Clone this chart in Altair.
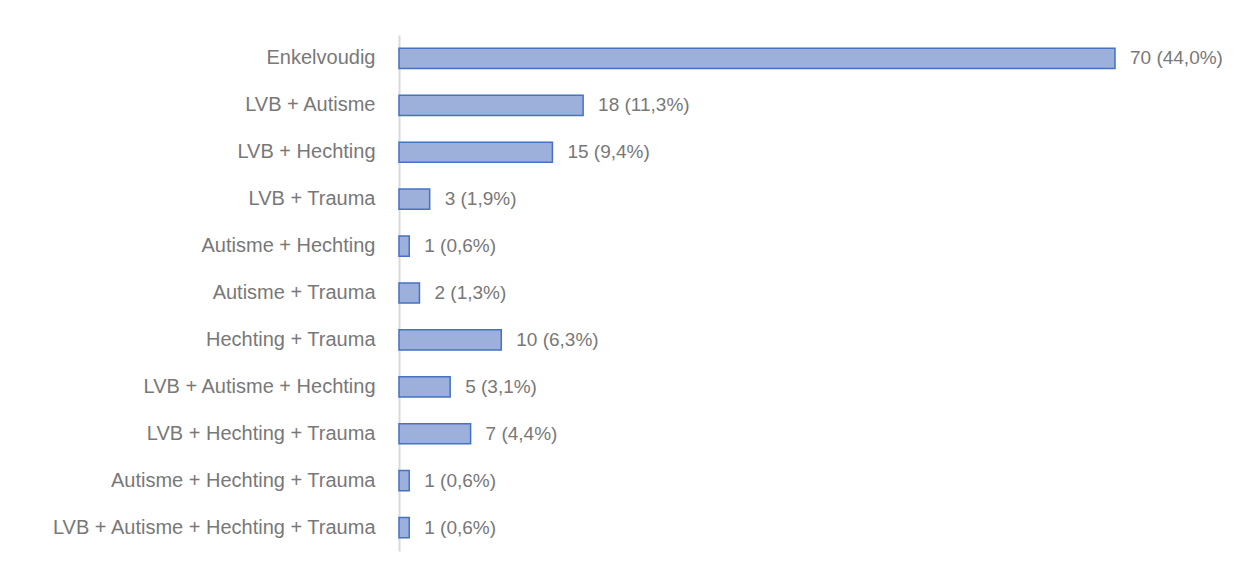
import altair as alt
import pandas as pd

categories = [
    "Enkelvoudig",
    "LVB + Autisme",
    "LVB + Hechting",
    "LVB + Trauma",
    "Autisme + Hechting",
    "Autisme + Trauma",
    "Hechting + Trauma",
    "LVB + Autisme + Hechting",
    "LVB + Hechting + Trauma",
    "Autisme + Hechting + Trauma",
    "LVB + Autisme + Hechting + Trauma",
]
counts = [70, 18, 15, 3, 1, 2, 10, 5, 7, 1, 1]
labels = ["70 (44,0%)", "18 (11,3%)", "15 (9,4%)", "3 (1,9%)", "1 (0,6%)", "2 (1,3%)",
          "10 (6,3%)", "5 (3,1%)", "7 (4,4%)", "1 (0,6%)", "1 (0,6%)"]

df = pd.DataFrame({"cat": categories, "n": counts, "label": labels})

font = "Liberation Sans"
grey = "#787878"

y_enc = alt.Y(
    "cat:N",
    sort=categories,
    title=None,
    scale=alt.Scale(paddingInner=0.57, paddingOuter=0.285),
    axis=alt.Axis(
        domainColor="#D9D9D9",
        domainWidth=2,
        ticks=False,
        labelFont=font,
        labelFontSize=20,
        labelColor=grey,
        labelPadding=24,
        labelLimit=400,
    ),
)
x_enc = alt.X("n:Q", scale=alt.Scale(domain=[0, 70], nice=False), axis=None)

bars = alt.Chart(df).mark_bar(
    color="#9DAFDB", stroke="#4472C4", strokeWidth=1.5
).encode(x=x_enc, y=y_enc)

text = alt.Chart(df).mark_text(
    align="left", baseline="middle", dx=15, font=font, fontSize=19, color=grey
).encode(x=x_enc, y=alt.Y("cat:N", sort=categories), text="label:N")

chart = (
    alt.layer(bars, text)
    .properties(
        width=716,
        height=516,
        background="white",
        autosize=alt.AutoSizeParams(type="none"),
        padding={"left": 391, "top": 27, "right": 117, "bottom": 10},
    )
    .configure_view(strokeWidth=0)
)

chart.save("out.html", embed_options={"renderer": "svg", "actions": False})
